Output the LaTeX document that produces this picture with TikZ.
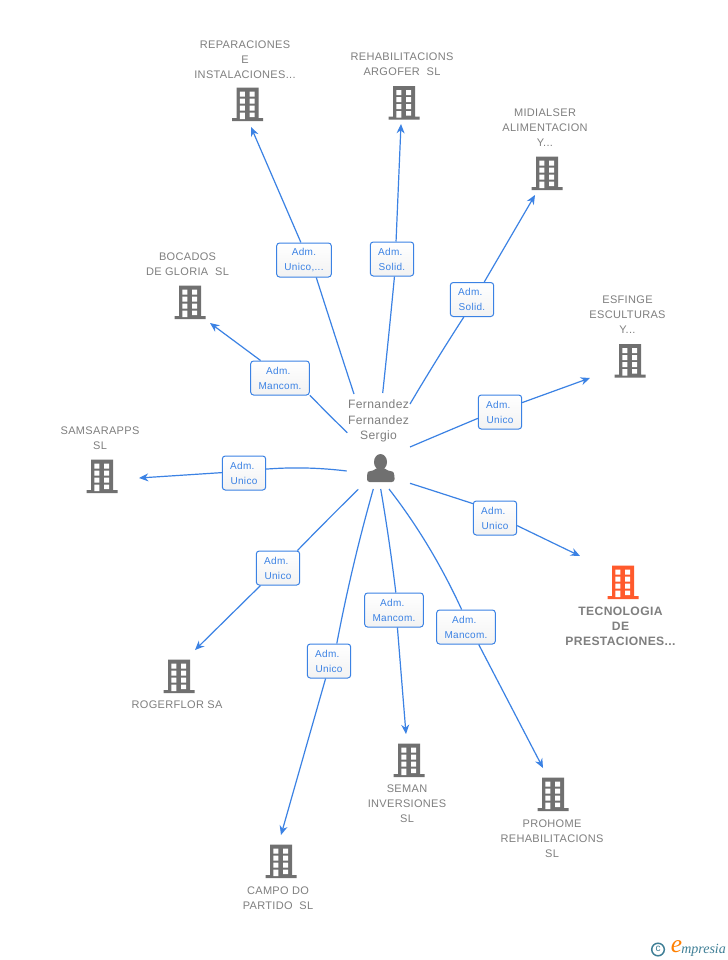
\documentclass[tikz,border=0pt]{standalone}
\usepackage{fontspec}
\setmainfont[LetterSpace=3]{Liberation Sans}
\newfontfamily\logofont{Liberation Serif}
\usetikzlibrary{arrows.meta,calc}
\definecolor{linkblue}{HTML}{3B82E4}
\definecolor{txtgray}{HTML}{7F7F7F}
\definecolor{icongray}{HTML}{707070}
\definecolor{hot}{HTML}{FF5A2C}
\definecolor{logoteal}{HTML}{3F7F96}
\newcommand{\adm}{\mbox{Adm.\kern2.5pt}}
\tikzset{
  x=0.75pt,y=-0.75pt,
  conn/.style={draw=linkblue,line width=0.9pt},
  arr/.style={conn,-{Stealth[length=7pt,width=6pt]}},
  rel/.style={draw=linkblue,line width=0.75pt,rounded corners=2.2pt,top color=white,bottom color=black!5,text=linkblue,
    font=\fontsize{7.5pt}{11.2pt}\selectfont,align=center,inner sep=0pt,minimum height=25.5pt},
  ent/.style={text=txtgray,font=\fontsize{8.25pt}{11.2pt}\selectfont,align=center,inner sep=0pt},
  bld/.pic={
    \path[pic actions,draw=none] (-11,-33.5) rectangle (11,-3) (-15.5,-3) rectangle (15.5,0);
    \fill[white] (-7.7,-29.5) rectangle (-2.7,-24.5) (2,-29.5) rectangle (7,-24.5)
      (-7.7,-22.5) rectangle (-2.7,-17.5) (2,-22.5) rectangle (7,-17.5)
      (-7.7,-15.5) rectangle (-2.7,-10.5) (2,-15.5) rectangle (7,-10.5)
      (-7.7,-8.5) rectangle (-2.7,-2) (2,-8.5) rectangle (7,-4);
  }
}
\begin{document}
\begin{tikzpicture}
\useasboundingbox (0,0) rectangle (728,960);
\fill[white] (0,0) rectangle (728,960);

% person-side ends, bends, arrow ends
\coordinate (s1) at (354,394);    \coordinate (c1) at (334,333);   \coordinate (e1) at (251,127);
\coordinate (s2) at (382.7,393);  \coordinate (c2) at (389,334);   \coordinate (e2) at (401,124);
\coordinate (s3) at (410,404);    \coordinate (c3) at (436,360);   \coordinate (e3) at (535,195);
\coordinate (s4) at (347.3,432.7);\coordinate (c4) at (328,414);   \coordinate (e4) at (210,323);
\coordinate (s5) at (410,447);    \coordinate (c5) at (444,432.5); \coordinate (e5) at (590,378);
\coordinate (s6) at (346.7,471);  \coordinate (c6) at (306,466);   \coordinate (e6) at (139,478);
\coordinate (s7) at (410,483.3);  \coordinate (c7) at (442,493.5); \coordinate (e7) at (580,556);
\coordinate (s8) at (358.3,489.3);\coordinate (c8) at (328,519);   \coordinate (e8) at (195,650);
\coordinate (s9) at (380.7,489);  \coordinate (c9) at (389.5,540); \coordinate (e9) at (406,734);
\coordinate (s10) at (389,489);   \coordinate (c10) at (431,543);  \coordinate (e10) at (543,768);
\coordinate (s11) at (373.3,489); \coordinate (c11) at (351.5,566);\coordinate (e11) at (281,835);

% relation labels
\path
 (304,260)   node[rel,minimum width=41pt] (l1) {Adm.\\Unico,...}
 (392,259)   node[rel,minimum width=32.5pt] (l2) {\adm\\Solid.}
 (472,299.5) node[rel,minimum width=32.5pt] (l3) {\adm\\Solid.}
 (280,378)   node[rel,minimum width=44pt] (l4) {\adm\\Mancom.}
 (500,412)   node[rel,minimum width=32.5pt] (l5) {\adm\\Unico}
 (244,473)   node[rel,minimum width=32.5pt] (l6) {\adm\\Unico}
 (495,518)   node[rel,minimum width=32.5pt] (l7) {\adm\\Unico}
 (278,568)   node[rel,minimum width=32.5pt] (l8) {\adm\\Unico}
 (394,610)   node[rel,minimum width=44pt] (l9) {\adm\\Mancom.}
 (466,627)   node[rel,minimum width=44pt] (l10) {\adm\\Mancom.}
 (329,661)   node[rel,minimum width=32.5pt] (l11) {\adm\\Unico};

% connectors: person side to label, label to company
\foreach \i/\a/\b in {1/-55.2/100.8,2/-82.3/77,3/-115.8/55.6,4/-30.4/138,5/196.2/23.2,6/10.4/179,
                      7/147/-19.5,8/42.8/-135,9/84.5/-79,10/104/-54,11/66.5/-101.4}{
  \draw[conn] (s\i) .. controls ($(s\i)!0.667!(c\i)$) and ($(l\i.\a)!0.667!(c\i)$) .. (l\i.\a);
  \draw[arr] (l\i.\b) -- (e\i);
}

% buildings
\path (247.5,121) pic[fill=icongray] {bld}
      (404,119.5) pic[fill=icongray] {bld}
      (547,190) pic[fill=icongray] {bld}
      (630,377.5) pic[fill=icongray] {bld}
      (623,599) pic[fill=hot] {bld}
      (553,811) pic[fill=icongray] {bld}
      (409,777) pic[fill=icongray] {bld}
      (281,878) pic[fill=icongray] {bld}
      (179,693) pic[fill=icongray] {bld}
      (102,493) pic[fill=icongray] {bld}
      (190,319) pic[fill=icongray] {bld};

% entity labels
\node[ent] (n1) at (245,60) {REPARACIONES\\E\\INSTALACIONES...};
\node[ent] (n2) at (402,64) {REHABILITACIONS\\ARGOFER\ \ SL};
\node[ent] (n3) at (545,128) {MIDIALSER\\ALIMENTACION\\Y...};
\node[ent] (n4) at (627.5,315) {ESFINGE\\ESCULTURAS\\Y...};
\node[ent,font=\fontsize{9.1pt}{11.2pt}\selectfont\bfseries] (n5) at (620.5,626.5) {TECNOLOGIA\\DE\\PRESTACIONES...};
\node[ent] (n6) at (552,839) {PROHOME\\REHABILITACIONS\\SL};
\node[ent] (n7) at (407,804) {SEMAN\\INVERSIONES\\SL};
\node[ent] (n8) at (278,898.5) {CAMPO DO\\PARTIDO\ \ SL};
\node[ent] (n9) at (177,705) {ROGERFLOR SA};
\node[ent] (n10) at (100,438.5) {SAMSARAPPS\\SL};
\node[ent] (n11) at (187.5,264) {BOCADOS\\DE GLORIA\ \ SL};

% central person
\node[ent,font=\fontsize{9.1pt}{11.4pt}\selectfont] (p) at (378.5,421) {Fernandez\\Fernandez\\Sergio};
\fill[icongray] (380.5,462) ellipse (6.5 and 8);
\fill[icongray,rounded corners=2pt] (367,482) -- (367,475) .. controls (368,471) and (373,471) .. (376,468)
   -- (385,468) .. controls (388,471) and (393,471) .. (394.5,475) -- (394.5,482) -- cycle;

% logo
\draw[draw=logoteal,line width=1.1pt] (658,949.5) circle (6.3);
\node[inner sep=0pt,text=logoteal,font=\fontsize{7.5pt}{8pt}\selectfont] (cp) at (658,949) {c};
\node[inner sep=0pt,text=orange,font=\logofont\itshape\fontsize{19pt}{19pt}\selectfont] (le) at (676.5,947) {e};
\node[inner sep=0pt,anchor=west,text=logoteal,font=\logofont\itshape\fontsize{10.5pt}{11pt}\selectfont] (lg) at (681,950) {mpresia};
\end{tikzpicture}
\end{document}
